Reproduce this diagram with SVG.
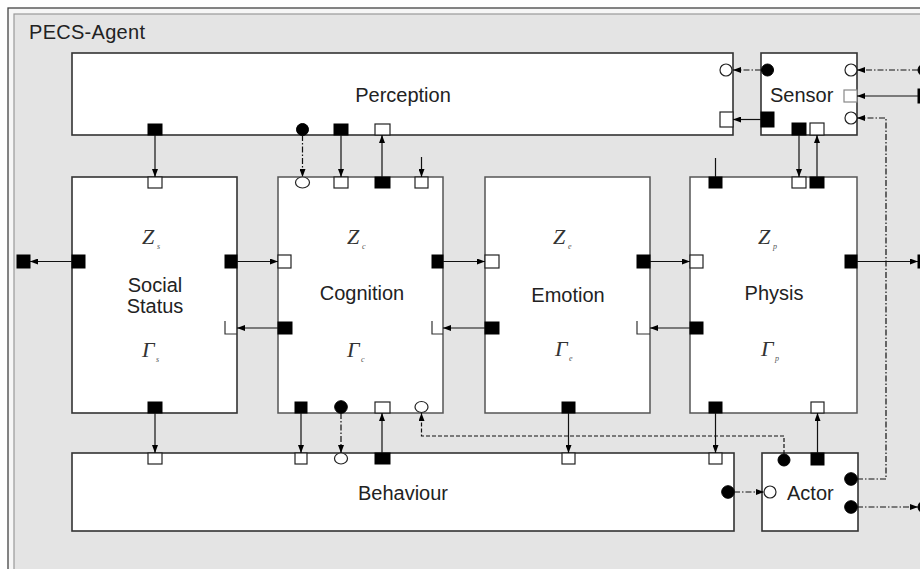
<svg xmlns="http://www.w3.org/2000/svg" width="920" height="569" viewBox="0 0 920 569">
<defs>
<marker id="ah" viewBox="0 0 8 6" refX="8" refY="3" markerWidth="8" markerHeight="6" markerUnits="userSpaceOnUse" orient="auto"><path d="M0,0 L8,3 L0,6 z" fill="#000"/></marker>
</defs>
<style>
.box{fill:#fff;stroke:#333;stroke-width:1.6}
.boxm{fill:#fff;stroke:#555;stroke-width:1.5}
.pb{fill:#000;stroke:#000;stroke-width:1}
.pw{fill:#fff;stroke:#222;stroke-width:1.2}
.pg{fill:#fff;stroke:#888;stroke-width:1.2}
.lp{fill:none;stroke:#333;stroke-width:1.2}
.c{fill:none;stroke:#111;stroke-width:1.2;marker-end:url(#ah)}
.dd{stroke-dasharray:6 2 1.5 2}
.ds{stroke-dasharray:4 2}
.t{font-family:"Liberation Sans",Arial,sans-serif;font-size:20px;fill:#222}
.g{font-family:"Liberation Serif","Times New Roman",serif;font-style:italic;font-size:22px;fill:#333}
.s{font-family:"Liberation Serif","Times New Roman",serif;font-style:italic;font-size:8px;fill:#555}
</style>
<rect x="0" y="0" width="920" height="569" fill="#fff"/>
<rect x="8" y="8" width="930" height="580" fill="#f6f6f6" stroke="#444" stroke-width="1.3"/>
<rect x="14" y="14" width="930" height="580" fill="#e4e4e4" stroke="#999" stroke-width="1.2"/>
<text x="29" y="39" class="t" textLength="116">PECS-Agent</text>

<g id="perception">
<rect class="box" x="72" y="53" width="661" height="82"/>
<text class="t" x="403" y="102" text-anchor="middle">Perception</text>
<rect class="pb" x="148" y="124" width="14" height="11"/>
<circle class="pb" cx="302.5" cy="129.5" r="6"/>
<rect class="pb" x="334" y="124" width="14" height="11"/>
<rect class="pw" x="375" y="124" width="15" height="11"/>
<circle class="pw" cx="726" cy="70" r="6"/>
<rect class="pw" x="720" y="112" width="13" height="15"/>
</g>

<g id="sensor">
<rect class="box" x="761" y="53" width="96" height="82"/>
<text class="t" x="770" y="102">Sensor</text>
<circle class="pb" cx="767.5" cy="70" r="6"/>
<rect class="pb" x="761" y="112" width="13" height="15"/>
<circle class="pw" cx="851" cy="70" r="6"/>
<rect class="pg" x="844" y="90" width="13" height="12"/>
<circle class="pw" cx="851" cy="118" r="6"/>
<rect class="pb" x="792" y="123" width="14" height="12"/>
<rect class="pw" x="810" y="123" width="14" height="12"/>
</g>

<g id="social-status">
<rect class="box" x="72" y="177" width="165" height="236"/>
<text class="g" x="142" y="244">Z</text><text class="s" x="157" y="249">s</text>
<text class="t" x="155" y="292" text-anchor="middle">Social</text>
<text class="t" x="155" y="313" text-anchor="middle">Status</text>
<text class="g" x="142" y="357">Γ</text><text class="s" x="156" y="362">s</text>
<rect class="pw" x="148" y="177" width="14" height="11"/>
<rect class="pb" x="72" y="255" width="13" height="13"/>
<rect class="pb" x="225" y="255" width="12" height="13"/>
<path class="lp" d="M225,321 V334 H237"/>
<rect class="pb" x="148" y="402" width="14" height="11"/>
</g>

<g id="cognition">
<rect class="boxm" x="278" y="177" width="165" height="236"/>
<text class="g" x="347" y="244">Z</text><text class="s" x="362" y="249">c</text>
<text class="t" x="362" y="300" text-anchor="middle">Cognition</text>
<text class="g" x="347" y="357">Γ</text><text class="s" x="361" y="362">c</text>
<ellipse class="pw" cx="302.5" cy="182.5" rx="7" ry="5.5"/>
<rect class="pw" x="334" y="177" width="14" height="11"/>
<rect class="pb" x="375" y="177" width="15" height="11"/>
<rect class="pw" x="415" y="177" width="13" height="11"/>
<rect class="pw" x="278" y="255" width="13" height="13"/>
<rect class="pb" x="278" y="322" width="14" height="12"/>
<rect class="pb" x="432" y="255" width="11" height="13"/>
<path class="lp" d="M432,321 V334 H443"/>
<rect class="pb" x="295" y="402" width="12" height="11"/>
<circle class="pb" cx="341" cy="407" r="6.3"/>
<rect class="pw" x="375" y="402" width="15" height="11"/>
<ellipse class="pw" cx="421.5" cy="407" rx="6.5" ry="5.5"/>
</g>

<g id="emotion">
<rect class="boxm" x="485" y="177" width="165" height="236"/>
<text class="g" x="553" y="244">Z</text><text class="s" x="568" y="249">e</text>
<text class="t" x="568" y="302" text-anchor="middle">Emotion</text>
<text class="g" x="555" y="356">Γ</text><text class="s" x="569" y="361">e</text>
<rect class="pw" x="485" y="255" width="14" height="13"/>
<rect class="pb" x="485" y="322" width="14" height="12"/>
<rect class="pb" x="637" y="255" width="13" height="13"/>
<path class="lp" d="M637,321 V334 H650"/>
<rect class="pb" x="562" y="402" width="13" height="11"/>
</g>

<g id="physis">
<rect class="boxm" x="690" y="177" width="167" height="236"/>
<text class="g" x="758" y="244">Z</text><text class="s" x="773" y="249">p</text>
<text class="t" x="774" y="300" text-anchor="middle">Physis</text>
<text class="g" x="761" y="356">Γ</text><text class="s" x="775" y="361">p</text>
<rect class="pb" x="709" y="177" width="13" height="11"/>
<rect class="pw" x="792" y="177" width="14" height="11"/>
<rect class="pb" x="810" y="177" width="14" height="11"/>
<rect class="pw" x="690" y="255" width="13" height="13"/>
<rect class="pb" x="690" y="322" width="13" height="12"/>
<rect class="pb" x="845" y="255" width="12" height="13"/>
<rect class="pb" x="709" y="402" width="13" height="11"/>
<rect class="pw" x="811" y="402" width="13" height="11"/>
</g>

<g id="behaviour">
<rect class="box" x="72" y="453" width="662" height="78"/>
<text class="t" x="403" y="500" text-anchor="middle">Behaviour</text>
<rect class="pw" x="148" y="453" width="14" height="11"/>
<rect class="pw" x="295" y="453" width="12" height="11"/>
<ellipse class="pw" cx="341" cy="458.5" rx="6.5" ry="5.5"/>
<rect class="pb" x="375" y="453" width="15" height="11"/>
<rect class="pw" x="562" y="453" width="13" height="11"/>
<rect class="pw" x="709" y="453" width="13" height="11"/>
<circle class="pb" cx="728" cy="492" r="6.3"/>
</g>

<g id="actor">
<rect class="box" x="762" y="453" width="96" height="78"/>
<text class="t" x="787" y="500">Actor</text>
<circle class="pb" cx="784" cy="460" r="6"/>
<rect class="pb" x="811" y="453" width="13" height="12"/>
<circle class="pw" cx="770" cy="492" r="6"/>
<circle class="pb" cx="851" cy="479" r="6.3"/>
<circle class="pb" cx="851" cy="507" r="6.3"/>
</g>

<g id="external-ports">
<rect class="pb" x="17" y="255" width="13" height="13"/>
<rect class="pb" x="918" y="255" width="13" height="13"/>
<circle class="pb" cx="924" cy="70" r="6"/>
<rect class="pb" x="918" y="89" width="10" height="14"/>
<circle class="pb" cx="924" cy="507" r="6"/>
</g>

<g id="connectors">
<path class="c" d="M155,135 V177"/>
<path class="c dd" d="M302.5,135 V177"/>
<path class="c" d="M341,135 V177"/>
<path class="c" d="M382,177 V135"/>
<path class="c" d="M421.5,157 V177"/>
<path class="c dd" d="M761,70 H733"/>
<path class="c" d="M761,119.5 H733"/>
<path class="c dd" d="M918,70 H857"/>
<path class="c" d="M918,96 H857"/>
<path class="c dd" d="M857,479 H886 V118 H857"/>
<path class="c" d="M799,135 V177"/>
<path class="c" d="M817,177 V135"/>
<path fill="none" stroke="#111" stroke-width="1.2" d="M715.5,158 V177"/>
<path class="c" d="M72,261.5 H30"/>
<path class="c" d="M237,261.5 H278"/>
<path class="c" d="M443,261.5 H485"/>
<path class="c" d="M650,261.5 H690"/>
<path class="c" d="M857,261.5 H918"/>
<path class="c" d="M278,328 H237"/>
<path class="c" d="M485,328 H443"/>
<path class="c" d="M690,328 H650"/>
<path class="c" d="M155,413 V453"/>
<path class="c" d="M301,413 V453"/>
<path class="c dd" d="M341,413 V453"/>
<path class="c" d="M382,453 V413"/>
<path class="c ds" d="M784,454 V436 H421.5 V413"/>
<path class="c" d="M568.5,413 V453"/>
<path class="c" d="M715.5,413 V453"/>
<path class="c" d="M817.5,453 V413"/>
<path class="c dd" d="M734,492 H764"/>
<path class="c dd" d="M857,507 H918"/>
</g>
</svg>
